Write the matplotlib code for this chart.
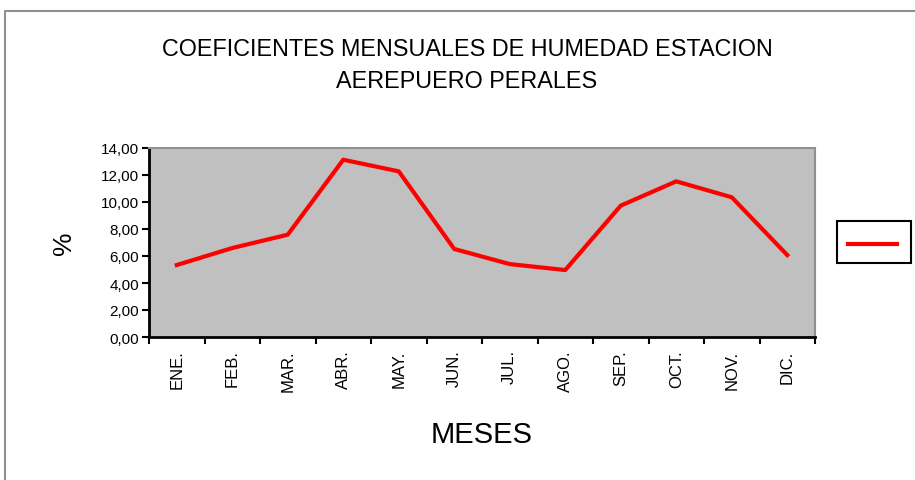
import numpy as np
import matplotlib
matplotlib.use("Agg")
import matplotlib.pyplot as plt
from matplotlib.lines import Line2D

plt.rcParams['font.family'] = ['Liberation Sans', 'DejaVu Sans']

meses = ["ENE.", "FEB.", "MAR.", "ABR.", "MAY.", "JUN.", "JUL.", "AGO.", "SEP.", "OCT.", "NOV.", "DIC."]
coeficientes = [5.33, 6.59, 7.58, 13.13, 12.27, 6.52, 5.40, 4.96, 9.73, 11.53, 10.35, 6.07]
yticks = [0, 2, 4, 6, 8, 10, 12, 14]

W, H = 915, 481
fig = plt.figure(figsize=(W / 100, H / 100), dpi=100)

# plot area in pixels
left, right, top, bottom = 149, 815, 149, 338
ax = fig.add_axes([left / W, 1 - bottom / H, (right - left) / W, (bottom - top) / H])
ax.set_facecolor("#c0c0c0")

x = np.arange(len(meses))
ax.plot(x, coeficientes, color="#ff0000", lw=3, solid_joinstyle="round")

ax.set_xlim(-0.5, len(meses) - 0.5)
ax.set_ylim(0, 14)
ax.set_yticks(yticks)
ax.set_yticklabels([f"{v:.2f}".replace(".", ",") for v in yticks], fontsize=11)
ax.set_xticks(x)
ax.set_xticklabels(meses, rotation=90, fontsize=12)
ax.tick_params(axis="x", which="major", length=0, pad=9)
ax.set_xticks(np.arange(-0.5, len(meses)), minor=True)
ax.tick_params(axis="x", which="minor", length=5, width=1.5, direction="out")
ax.tick_params(axis="y", length=5, width=1.5, direction="out", pad=2)

for s in ["top", "right"]:
    ax.spines[s].set_color("#909090")
    ax.spines[s].set_linewidth(1.5)
for s in ["left", "bottom"]:
    ax.spines[s].set_color("#000000")
    ax.spines[s].set_linewidth(2)

ax.set_ylabel("%", fontsize=19, labelpad=18)
ax.set_xlabel("MESES", fontsize=21, labelpad=21)

fig.text(467 / W, 1 - 50 / H, "COEFICIENTES MENSUALES DE HUMEDAD ESTACION",
         ha="center", va="center", fontsize=16.8)
fig.text(467 / W, 1 - 82 / H, "AEREPUERO PERALES",
         ha="center", va="center", fontsize=16.8)

# legend box
lx0, lx1, ly0, ly1 = 837, 911, 222, 264
fig.patches.append(plt.Rectangle((lx0 / W, 1 - ly1 / H), (lx1 - lx0) / W, (ly1 - ly0) / H,
                                 transform=fig.transFigure, fill=False,
                                 edgecolor="#000000", lw=1.5))
fig.lines.append(Line2D([848 / W, 897 / W], [1 - 245 / H, 1 - 245 / H],
                        transform=fig.transFigure, color="#ff0000", lw=3))

# outer frame
fig.lines.append(Line2D([5 / W, 5 / W, 1], [0, 1 - 12 / H, 1 - 12 / H],
                        transform=fig.transFigure, color="#909090", lw=1.5))

fig.savefig("out.png", dpi=100)
